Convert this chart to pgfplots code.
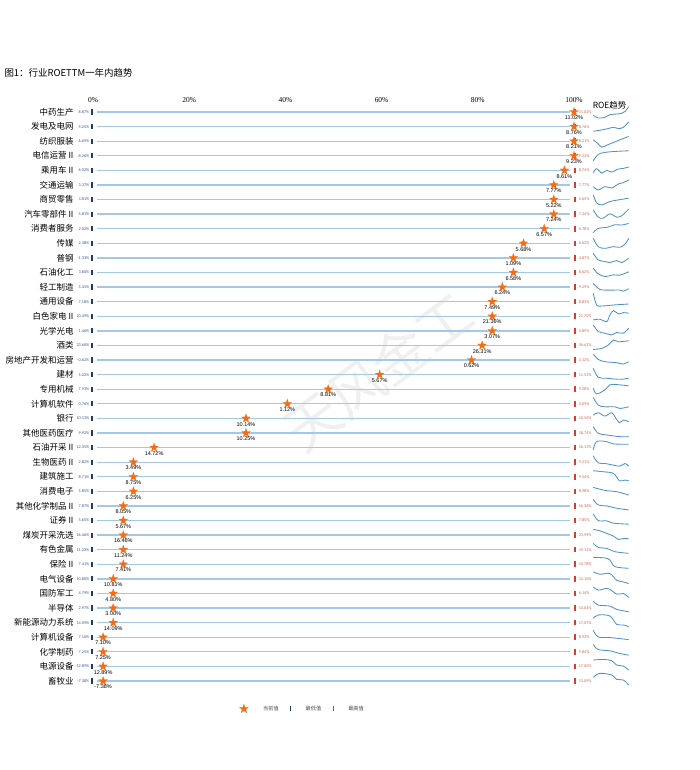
\documentclass[border=0pt]{standalone}
\usepackage{pgfplots}
\pgfplotsset{compat=1.18}
\usepackage{pgfplotstable}
\usepackage{fontspec}
\setmainfont{Liberation Serif}
\newfontfamily\cjk{Noto Sans CJK SC}
\newfontfamily\labf{Liberation Sans}
\newfontfamily\tinyf{Carlito}
\definecolor{trackblue}{RGB}{165,200,232}
\definecolor{minblue}{RGB}{31,56,120}
\definecolor{maxred}{RGB}{220,60,35}
\definecolor{starorange}{RGB}{247,108,18}
\definecolor{sparkblue}{RGB}{80,145,205}
\definecolor{minlbl}{RGB}{60,80,150}
\definecolor{maxlbl}{RGB}{225,95,70}

\pgfdeclareplotmark{fstar}{%
 \pgfpathmoveto{\pgfpointpolar{90}{\pgfplotmarksize}}%
 \pgfpathlineto{\pgfpointpolar{126}{0.4\pgfplotmarksize}}%
 \pgfpathlineto{\pgfpointpolar{162}{\pgfplotmarksize}}%
 \pgfpathlineto{\pgfpointpolar{198}{0.4\pgfplotmarksize}}%
 \pgfpathlineto{\pgfpointpolar{234}{\pgfplotmarksize}}%
 \pgfpathlineto{\pgfpointpolar{270}{0.4\pgfplotmarksize}}%
 \pgfpathlineto{\pgfpointpolar{306}{\pgfplotmarksize}}%
 \pgfpathlineto{\pgfpointpolar{342}{0.4\pgfplotmarksize}}%
 \pgfpathlineto{\pgfpointpolar{18}{\pgfplotmarksize}}%
 \pgfpathlineto{\pgfpointpolar{54}{0.4\pgfplotmarksize}}%
 \pgfpathclose
 \pgfusepathqfillstroke}

\pgfplotstableread{
row minv cur maxv pct
1 8.87 11.02 11.02 100
2 5.25 8.76 8.76 100
3 6.69 8.21 8.21 100
4 8.26 9.23 9.23 100
5 6.02 8.61 8.74 98.0
6 3.37 7.77 7.77 95.8
7 3.81 5.22 5.65 95.8
8 5.81 7.24 7.24 95.8
9 2.02 6.57 6.78 93.8
10 2.38 5.68 6.02 89.5
11 -1.33 1.09 4.87 87.4
12 3.80 6.58 8.62 87.4
13 5.45 6.24 9.29 85.1
14 7.18 7.49 8.83 83.0
15 20.49 21.36 21.70 83.0
16 1.46 3.07 3.89 83.0
17 23.60 26.31 26.62 80.9
18 -0.62 0.62 3.12 78.7
19 5.02 5.67 11.53 59.6
20 7.93 8.81 9.28 48.9
21 0.76 1.12 3.09 40.4
22 10.13 10.14 10.56 31.8
23 9.92 10.25 18.74 31.8
24 12.35 14.72 16.13 12.7
25 2.82 3.49 9.21 8.4
26 8.71 8.75 9.54 8.4
27 5.85 6.25 8.98 8.4
28 7.87 8.05 16.36 6.3
29 5.65 5.67 7.85 6.3
30 16.46 16.46 23.99 6.3
31 11.23 11.24 19.12 6.3
32 7.41 7.41 10.78 6.3
33 10.80 10.81 12.10 4.2
34 4.79 4.80 6.14 4.2
35 2.97 3.00 10.04 4.2
36 14.09 14.09 17.07 4.2
37 7.10 7.10 8.93 2.1
38 7.25 7.25 9.84 2.1
39 12.89 12.89 17.00 2.1
40 -7.38 -7.38 13.09 2.1
}\data

\begin{document}
\begin{tikzpicture}
\path[use as bounding box] (0,0) rectangle (700bp,770bp);
\node[anchor=west, font=\cjk\fontsize{9.5}{11}\selectfont] at (1bp,697bp) {图1：行业ROETTM一年内趋势};
\begin{axis}[
  at={(93bp,89bp)}, anchor=south west,
  scale only axis, width=481bp, height=569bp,
  xmin=0, xmax=100, ymin=1, ymax=40, y dir=reverse,
  clip=false,
  axis line style={draw=none}, major tick length=0,
  xtick={0,20,40,60,80,100},
  xticklabels={0\%,20\%,40\%,60\%,80\%,100\%},
  xticklabel pos=upper,
  xticklabel style={font=\fontsize{7.5}{9}\selectfont, yshift=6bp},
  ytick={1,...,40},
  yticklabels={中药生产,发电及电网,纺织服装,电信运营 II,乘用车 II,交通运输,商贸零售,汽车零部件 II,消费者服务,传媒,普钢,石油化工,轻工制造,通用设备,白色家电 II,光学光电,酒类,房地产开发和运营,建材,专用机械,计算机软件,银行,其他医药医疗,石油开采 II,生物医药 II,建筑施工,消费电子,其他化学制品 II,证券 II,煤炭开采洗选,有色金属,保险 II,电气设备,国防军工,半导体,新能源动力系统,计算机设备,化学制药,电源设备,畜牧业},
  yticklabel style={font=\cjk\fontsize{8.5}{10}\selectfont, xshift=-16bp},
  legend style={at={(0.436,-0.049)}, anchor=center, draw=none, fill=none,
    legend columns=3, font=\cjk\fontsize{5.2}{6}\selectfont, text=black!70,
    /tikz/every odd column/.append style={column sep=13bp},
    /tikz/every even column/.append style={column sep=10bp}},
  spark/.style={forget plot, no markers, smooth, tension=0.55, sparkblue, line width=0.85bp,
    x filter/.expression={104+x*0.737}, y filter/.expression={#1+y/43.8}},
]
\node[rotate=37, text=black!6, font=\cjk\fontsize{55}{60}\selectfont] at (axis cs:59.3,18.8) {天风金工};

\addlegendimage{only marks, mark=fstar, mark size=4.5bp, mark options={fill=starorange, draw=starorange}}
\addlegendentry{当前值}
\addlegendimage{only marks, mark=|, mark size=2.6bp, mark options={draw=minblue, line width=1.5bp}}
\addlegendentry{最低值}
\addlegendimage{only marks, mark=|, mark size=2.6bp, mark options={draw=maxred, line width=1.5bp}}
\addlegendentry{最高值}

% tracks
\addplot[forget plot, draw=none, mark=none,
  error bars/.cd, x dir=both, x explicit, error mark=none,
  error bar style={draw=trackblue, line width=1.3bp}]
  table[x expr=50, y=row, x error expr=49.2]{\data};
% minimum markers
\addplot[forget plot, only marks, mark=|, mark size=2.6bp,
  mark options={draw=minblue, line width=1.8bp},
  point meta=explicit symbolic, nodes near coords={\pgfplotspointmeta\%},
  every node near coord/.append style={anchor=east, xshift=-1.5bp, font=\tinyf\fontsize{4.2}{5}\selectfont, text=minlbl, inner sep=0.5bp}]
  table[x expr=-0.2, y=row, meta=minv]{\data};
% maximum markers
\addplot[forget plot, only marks, mark=|, mark size=2.8bp,
  mark options={draw=maxred, line width=1.8bp},
  point meta=explicit symbolic, nodes near coords={\pgfplotspointmeta\%},
  every node near coord/.append style={anchor=west, xshift=2.5bp, font=\tinyf\fontsize{4.2}{5}\selectfont, text=maxlbl, inner sep=0.5bp}]
  table[x expr=100.2, y=row, meta=maxv]{\data};
% current value stars
\addplot[forget plot, only marks, mark=fstar, mark size=4.6bp,
  mark options={fill=starorange, draw=starorange, line width=0.2bp},
  point meta=explicit symbolic, nodes near coords={\pgfplotspointmeta\%},
  every node near coord/.append style={anchor=north, yshift=-3.3bp, font=\labf\fontsize{5.5}{6}\selectfont, text=black, inner sep=0.5bp}]
  table[x=pct, y=row, meta=cur]{\data};

\node[font=\cjk\fontsize{8.5}{10}\selectfont] at (axis cs:107.4,0.57) {ROE趋势};

% sparklines (ROE trend shape, offset in px below row centre)
\addplot[spark=1] coordinates {(0,10)(1.4,18)(3.3,16)(4.7,8)(6.6,6)(8,4)(9,-2)(10,-16)};
\addplot[spark=2] coordinates {(0,14)(2.4,10)(4.2,6)(5.7,2)(7.1,6)(8.5,2)(10,-14)};
\addplot[spark=3] coordinates {(0,-4)(1.4,8)(2.4,18)(3.8,12)(5.7,4)(7.5,-4)(10,-14)};
\addplot[spark=4] coordinates {(0,15)(1.4,-4)(3.3,-10)(6.1,-13)(10,-15)};
\addplot[spark=5] coordinates {(0,7)(0.94,-5)(2.4,8)(3.8,0)(5.2,5)(7.1,-4)(8.5,-6)(10,-10)};
\addplot[spark=6] coordinates {(0,5)(1.4,15)(3.3,5)(5.2,9)(7.1,-3)(8.5,-7)(10,-15)};
\addplot[spark=7] coordinates {(0,-14)(0.94,10)(2.4,16)(4.7,6)(7.1,1)(10,-4)};
\addplot[spark=8] coordinates {(0,-13)(1.4,9)(2.8,12)(4.7,-1)(6.6,9)(8,5)(10,-15)};
\addplot[spark=9] coordinates {(0,12)(1.4,-1)(3.8,-4)(6.1,-12)(8,-11)(10,-16)};
\addplot[spark=10] coordinates {(0,-15)(1.4,10)(3.3,15)(5.7,10)(7.5,12)(9,2)(10,-15)};
\addplot[spark=11] coordinates {(0,-14)(1.4,6)(3.3,11)(4.7,14)(6.6,8)(8,14)(10,1)};
\addplot[spark=12] coordinates {(0,-13)(1.4,4)(3.3,12)(5.7,7)(7.5,8)(10,-2)};
\addplot[spark=13] coordinates {(0,-11)(1.9,7)(4.7,9)(7.5,9)(8.5,12)(10,5)};
\addplot[spark=14] coordinates {(0,-25)(0.94,10)(2.4,13)(5.7,10)(10,7)};
\addplot[spark=15] coordinates {(0,11)(1.9,9)(3.8,16)(4.7,-4)(5.7,-17)(7.1,-7)(8.5,-11)(10,-9)};
\addplot[spark=16] coordinates {(0,-18)(1.4,2)(3.3,7)(5.2,12)(6.6,5)(8.5,7)(10,-8)};
\addplot[spark=17] coordinates {(0,12)(2.4,9)(4.2,-1)(5.7,-16)(7.1,-11)(10,-14)};
\addplot[spark=18] coordinates {(0,-18)(1.4,-2)(3.3,5)(6.6,8)(8.5,12)(10,5)};
\addplot[spark=19] coordinates {(0,-19)(1.4,8)(3.8,11)(7.5,14)(10,11)};
\addplot[spark=20] coordinates {(0,-3)(0.94,14)(3.3,2)(4.7,-13)(6.6,-14)(10,-10)};
\addplot[spark=21] coordinates {(0,-19)(1.4,4)(3.3,9)(6.1,9)(7.5,14)(10,9)};
\addplot[spark=22] coordinates {(0,-10)(1.4,-17)(3.3,-7)(5.2,-17)(6.4,0)(7.4,13)(8.5,5)(10,10)};
\addplot[spark=23] coordinates {(0,-19)(1.4,1)(3.8,6)(7.5,11)(10,11)};
\addplot[spark=24] coordinates {(0,7)(0.94,-18)(3.8,-18)(5.7,-11)(10,-10)};
\addplot[spark=25] coordinates {(0,-19)(1.4,2)(3.3,4)(5.7,9)(7.5,12)(9,4)(10,12)};
\addplot[spark=26] coordinates {(0,-18)(2.8,-15)(5.7,-10)(7.4,12)(9,10)(10,12)};
\addplot[spark=27] coordinates {(0,-12)(0.94,-9)(3.8,-2)(6.6,1)(10,11)};
\addplot[spark=28] coordinates {(0,-20)(1.4,-3)(3.8,0)(6.6,7)(10,12)};
\addplot[spark=29] coordinates {(0,-20)(1.4,0)(3.8,1)(5.7,8)(10,11)};
\addplot[spark=30] coordinates {(0,-17)(1.9,-13)(3.8,-5)(5.7,3)(7.1,13)(8.5,10)(10,11)};
\addplot[spark=31] coordinates {(0,-19)(1.4,-7)(3.8,-4)(6.1,6)(10,11)};
\addplot[spark=32] coordinates {(0,-21)(3.3,-19)(4.7,-13)(6.1,7)(10,12)};
\addplot[spark=33] coordinates {(0,-21)(1.9,-14)(4.7,-16)(6.6,4)(8.5,9)(10,14)};
\addplot[spark=34] coordinates {(0,-20)(1.4,-10)(4.2,-15)(6.6,2)(8.5,0)(10,12)};
\addplot[spark=35] coordinates {(0,-21)(1.4,-9)(4.7,-6)(6.6,4)(10,11)};
\addplot[spark=36] coordinates {(0,-13)(1.4,-23)(4.7,-20)(6.6,5)(8.5,7)(10,12)};
\addplot[spark=37] coordinates {(0,-21)(1.4,-1)(4.7,1)(10,7)};
\addplot[spark=38] coordinates {(0,-22)(1.4,-7)(4.7,-3)(7.5,5)(10,10)};
\addplot[spark=39] coordinates {(0,-19)(2.8,-21)(5.2,-17)(6.6,-4)(8.5,-1)(10,11)};
\addplot[spark=40] coordinates {(0,-11)(1.9,-23)(5.2,-18)(6.6,-5)(8.5,-3)(10,12)};
\end{axis}
\end{tikzpicture}
\end{document}
